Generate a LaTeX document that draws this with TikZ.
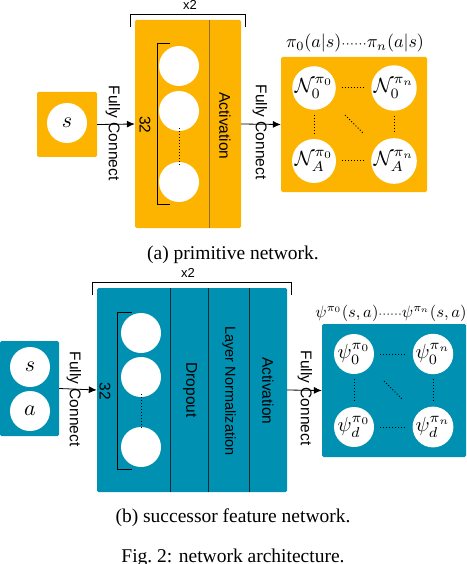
\documentclass[tikz,border=0pt]{standalone}
\usepackage[no-math]{fontspec}
\setmainfont{Liberation Serif}
\setsansfont{Liberation Sans}
\usetikzlibrary{arrows.meta}
\definecolor{orng}{RGB}{253,180,0}
\definecolor{tealb}{RGB}{0,144,178}
\definecolor{divA}{RGB}{150,110,30}
\definecolor{divB}{RGB}{10,40,50}
\newcommand{\mbig}[2][1.8]{\scalebox{#1}{$#2$}}
\begin{document}
\begin{tikzpicture}[x=1pt,y=-1pt,
  neuron/.style={circle,fill=white,minimum size=40pt,inner sep=0pt},
  sflab/.style={font=\sffamily\fontsize{15.5}{18}\selectfont,rotate=-90,inner sep=0pt},
  mlab/.style={inner sep=0pt},
  captext/.style={font=\fontsize{19.5}{22}\selectfont,inner sep=0pt},
  arr/.style={-{Latex[length=8pt,width=7pt]},line width=0.8pt},
  dotl/.style={dotted,line width=1pt},
  brk/.style={line width=0.8pt},
  boxA/.style={fill=orng,inner sep=0pt,rounded corners=1.5pt},
  boxB/.style={fill=tealb,inner sep=0pt,rounded corners=1.5pt}]
\useasboundingbox (0,0) rectangle (466,564);

% ---------------- (a) primitive network ----------------
\node[boxA,minimum width=60pt,minimum height=65pt] (inA) at (67,124.5) {};
\node[neuron] (sA) at (67,123) {\mbig[2.2]{s}};
\node[boxA,minimum width=106pt,minimum height=208pt] (mainA) at (188,124) {};
\draw[divA,line width=0.7pt] (209,20) -- (209,228);
\node[boxA,minimum width=146pt,minimum height=135pt] (outA) at (354,124.5) {};

\draw[brk] (130,27) -- (130,14) -- (245,14) -- (245,27);
\node[font=\sffamily\fontsize{13}{15}\selectfont,inner sep=0pt] (xA) at (190,5) {x2};

\node[neuron] (nA1) at (179,66) {};
\node[neuron] (nA2) at (179,111) {};
\node[neuron] (nA3) at (179,182) {};
\draw[dotl] ([yshift=3pt]nA2.south) -- ([yshift=-3pt]nA3.north);
\draw[brk] (170,43) -- (157,43) -- (157,204) -- (170,204);
\node[sflab] (n32A) at (145,125) {32};
\node[sflab] (actA) at (225,126) {Activation};

\draw[arr] (inA.east) -- (mainA.west);
\node[sflab] (fcA1) at (113,133) {Fully Connect};
\draw[arr] (mainA.east) -- (outA.west);
\node[sflab] (fcA2) at (260,132) {Fully Connect};

\node[neuron] (o11) at (314,88) {\mbig[2.05]{\mathcal{N}_0^{\pi_0}}};
\node[neuron] (o12) at (394,88) {\mbig[2.05]{\mathcal{N}_0^{\pi_n}}};
\node[neuron] (o21) at (314,161) {\mbig[2.05]{\mathcal{N}_A^{\pi_0}}};
\node[neuron] (o22) at (394,161) {\mbig[2.05]{\mathcal{N}_A^{\pi_n}}};
\draw[dotl,shorten <=6pt,shorten >=6pt] (o11) -- (o12);
\draw[dotl,shorten <=6pt,shorten >=6pt] (o21) -- (o22);
\draw[dotl,shorten <=5pt,shorten >=5pt] (o11) -- (o21);
\draw[dotl,shorten <=5pt,shorten >=5pt] (o12) -- (o22);
\coordinate (dA1) at (345,115);
\coordinate (dA2) at (363,133);
\draw[dotl] (dA1) -- (dA2);
\node[mlab] (labA) at (355,43) {\mbig{\pi_0(a|s){\scriptstyle\cdots\cdots}\pi_n(a|s)}};

\node[captext] (capA) at (233,255) {(a) primitive network.};

% ---------------- (b) successor feature network ----------------
\node[boxB,minimum width=59pt,minimum height=95pt] (inB) at (29.5,388.5) {};
\node[neuron] (sB) at (30,367) {\mbig[2.2]{s}};
\node[neuron] (aB) at (30,411) {\mbig[2.2]{a}};
\node[boxB,minimum width=190pt,minimum height=204pt] (mainB) at (192,390) {};
\draw[divB,line width=0.7pt] (170,288) -- (170,492);
\draw[divB,line width=0.7pt] (208,288) -- (208,492);
\draw[divB,line width=0.7pt] (249,288) -- (249,492);
\node[boxB,minimum width=144pt,minimum height=133pt] (outB) at (394,390.5) {};

\draw[brk] (92,295) -- (92,282) -- (291,282) -- (291,295);
\node[font=\sffamily\fontsize{13}{15}\selectfont,inner sep=0pt] (xB) at (188,273) {x2};

\node[neuron] (nB1) at (141,333) {};
\node[neuron] (nB2) at (141,377) {};
\node[neuron] (nB3) at (141,447) {};
\draw[dotl] ([yshift=3pt]nB2.south) -- ([yshift=-3pt]nB3.north);
\draw[brk] (132,312) -- (117,312) -- (117,469) -- (132,469);
\node[sflab] (n32B) at (105,391) {32};
\node[sflab] (dropB) at (190,390) {Dropout};
\node[sflab,font=\sffamily\fontsize{14.5}{17}\selectfont] (lnB) at (229,391) {Layer Normalization};
\node[sflab] (actB) at (268,391) {Activation};

\draw[arr] (inB.east) -- (mainB.west);
\node[sflab] (fcB1) at (74,399) {Fully Connect};
\draw[arr] (mainB.east) -- (outB.west);
\node[sflab] (fcB2) at (305,398) {Fully Connect};

\node[neuron] (p11) at (354,354) {\mbig[2.05]{\psi_0^{\pi_0}}};
\node[neuron] (p12) at (433,354) {\mbig[2.05]{\psi_0^{\pi_n}}};
\node[neuron] (p21) at (354,427) {\mbig[2.05]{\psi_d^{\pi_0}}};
\node[neuron] (p22) at (433,427) {\mbig[2.05]{\psi_d^{\pi_n}}};
\draw[dotl,shorten <=6pt,shorten >=6pt] (p11) -- (p12);
\draw[dotl,shorten <=6pt,shorten >=6pt] (p21) -- (p22);
\draw[dotl,shorten <=5pt,shorten >=5pt] (p11) -- (p21);
\draw[dotl,shorten <=5pt,shorten >=5pt] (p12) -- (p22);
\coordinate (dB1) at (384,381);
\coordinate (dB2) at (402,399);
\draw[dotl] (dB1) -- (dB2);
\node[mlab] (labB) at (391,313) {\mbig[1.65]{\psi^{\pi_0}(s,a){\scriptstyle\cdots\cdots}\psi^{\pi_n}(s,a)}};

\node[captext] (capB) at (233,518) {(b) successor feature network.};
\node[captext] (capF) at (233,558) {Fig.~2: network architecture.};
\end{tikzpicture}
\end{document}
